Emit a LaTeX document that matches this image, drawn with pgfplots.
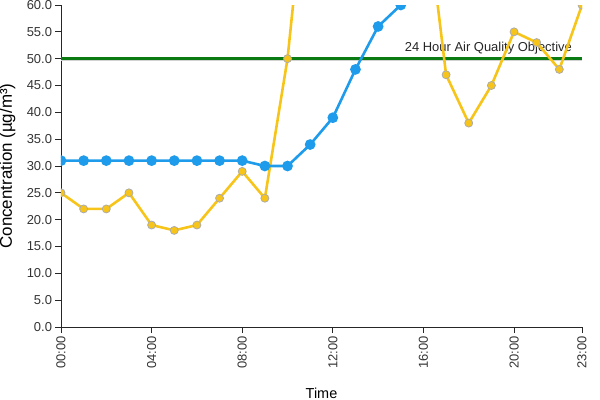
\documentclass[border=0pt]{standalone}
\usepackage{pgfplots}
\pgfplotsset{compat=1.18}
\usepackage{fontspec}
\setmainfont{Liberation Sans}

\definecolor{sblue}{HTML}{1E9BEA}
\definecolor{syellow}{HTML}{F7C41A}
\definecolor{sgreen}{HTML}{0A7A12}
\definecolor{txt}{HTML}{333333}

\begin{document}
\begin{tikzpicture}
\useasboundingbox (-61bp,-73bp) rectangle (539bp,327bp);
\begin{axis}[
    scale only axis,
    width=521bp, height=322bp,
    xmin=0, xmax=23,
    ymin=0, ymax=60,
    axis lines*=left,
    axis line style={line width=1pt, black!85},
    tick style={line width=0.8pt, black!85},
    tick align=outside,
    major tick length=5.5bp,
    xtick={0,4,8,12,16,20,23},
    xticklabels={00:00,04:00,08:00,12:00,16:00,20:00,23:00},
    x tick label style={rotate=90, anchor=east, font=\fontsize{13}{15}\selectfont, text=txt},
    ytick={0,5,...,60},
    y tick label style={font=\fontsize{13}{15}\selectfont, text=txt,
      /pgf/number format/fixed, /pgf/number format/fixed zerofill,
      /pgf/number format/precision=1},
    /pgf/number format/assume math mode=true,
    xlabel={Time},
    ylabel={Concentration (µg/m³)},
    xlabel style={font=\fontsize{14.5}{17}\selectfont,
      at={(axis description cs:0.5,0)}, anchor=base, yshift=-71bp},
    ylabel style={font=\fontsize{17}{19}\selectfont,
      at={(axis description cs:0,0.5)}, anchor=base, yshift=49bp},
    clip marker paths=true,
  ]
  % objective line, with a faint shadow under it
  \addplot[gray!35, line width=1.2pt, forget plot] coordinates {(0,49.6) (23,49.6)};
  \addplot[sgreen, line width=3.3pt, forget plot] coordinates {(0,50) (23,50)};
  \node[anchor=south east, font=\fontsize{13}{15}\selectfont, text=black!85, inner sep=2bp]
    at (axis cs:22.65,50.4) {24 Hour Air Quality Objective};

  % yellow series
  \addplot[syellow, line width=2.6pt, mark=*, mark size=4bp,
           mark options={fill=syellow, draw=gray!65, line width=0.8pt}]
    coordinates {
      (0,25) (1,22) (2,22) (3,25) (4,19) (5,18) (6,19) (7,24)
      (8,29) (9,24) (10,50) (11,91) (12,95) (13,92) (14,88) (15,85)
      (16,82) (17,47) (18,38) (19,45) (20,55) (21,53) (22,48) (23,60)
    };

  % blue series
  \addplot[sblue, line width=2.6pt, mark=*, mark size=4bp,
           mark options={fill=sblue, draw=sblue}]
    coordinates {
      (0,31) (1,31) (2,31) (3,31) (4,31) (5,31) (6,31) (7,31)
      (8,31) (9,30) (10,30) (11,34) (12,39) (13,48) (14,56) (15,60)
      (16,62)
    };
\end{axis}
\end{tikzpicture}
\end{document}
